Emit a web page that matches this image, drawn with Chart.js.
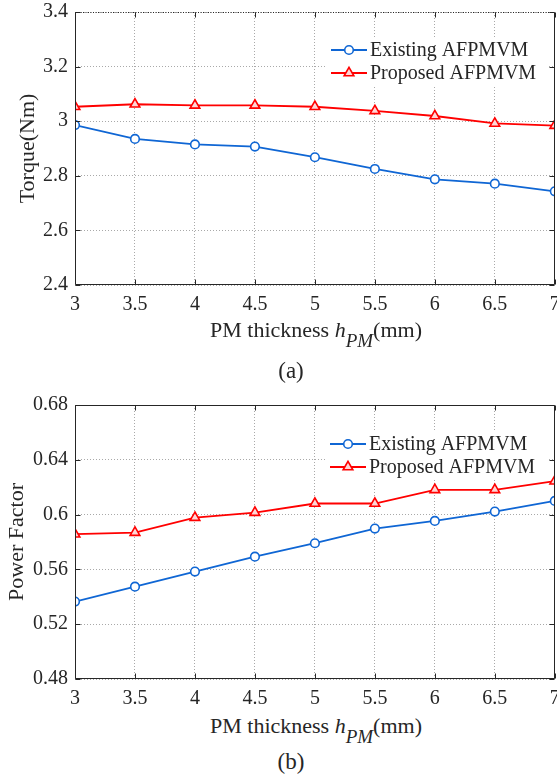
<!DOCTYPE html>
<html>
<head>
<meta charset="utf-8">
<script src="https://cdn.jsdelivr.net/npm/chart.js@4.4.1/dist/chart.umd.min.js"></script>
<style>
html, body { margin: 0; padding: 0; width: 557px; height: 781px; overflow: hidden; background: #fff; }
.wrap { position: absolute; left: 0; width: 562px; height: 320px; }
.xt { position: absolute; left: 0; width: 632px; text-align: center; font: 22px/22px "Liberation Serif"; color: #262626; white-space: nowrap; }
.xt i { font-style: italic; }
.xt sub { font-size: 19px; font-style: italic; vertical-align: baseline; position: relative; top: 10px; }
.cap { position: absolute; left: 0; width: 582px; text-align: center; font: 23px/23px "Liberation Serif"; color: #262626; }
</style>
</head>
<body>
<div class="wrap" style="top:0"><canvas id="torqueChart"></canvas></div>
<div class="xt" style="top:319px">PM thickness <i>h</i><sub>PM</sub>(mm)</div>
<div class="cap" style="top:359px">(a)</div>

<div class="wrap" style="top:390px"><canvas id="pfChart"></canvas></div>
<div class="xt" style="top:715px">PM thickness <i>h</i><sub>PM</sub>(mm)</div>
<div class="cap" style="top:750px">(b)</div>

<script>
const thickness      = [3, 3.5, 4, 4.5, 5, 5.5, 6, 6.5, 7];
const torqueExisting = [2.986, 2.935, 2.915, 2.907, 2.868, 2.825, 2.787, 2.771, 2.743];
const torqueProposed = [3.053, 3.062, 3.058, 3.058, 3.053, 3.038, 3.019, 2.992, 2.984];
const pfExisting     = [0.5365, 0.5474, 0.5584, 0.5693, 0.5791, 0.5898, 0.5954, 0.6022, 0.610];
const pfProposed     = [0.5857, 0.5869, 0.5978, 0.6015, 0.6081, 0.6081, 0.6181, 0.6181, 0.6244];

const xTicks      = [3, 3.5, 4, 4.5, 5, 5.5, 6, 6.5, 7];
const torqueTicks = [2.4, 2.6, 2.8, 3, 3.2, 3.4];
const pfTicks     = [0.48, 0.52, 0.56, 0.6, 0.64, 0.68];
const seriesNames = ["Existing AFPMVM", "Proposed AFPMVM"];

const BLUE = "#0f66d4";
const RED  = "#ff0000";
const INK  = "#262626";
const FONT = "Liberation Serif";

// black box round the plot, ticks pointing in on all four sides
const framePlugin = {
    id: "frame",
    afterDraw(chart, args, opts) {
        const { ctx, chartArea: a, scales: { x, y } } = chart;
        const L = Math.round(a.left) + 0.5, R = Math.round(a.right) - 0.5;
        const T = Math.round(a.top) + 0.5, B = Math.round(a.bottom) - 0.5;
        ctx.save();
        ctx.strokeStyle = INK;
        ctx.lineWidth = 1;
        ctx.beginPath();
        x.ticks.forEach(t => {
            const px = Math.round(x.getPixelForValue(t.value)) + 0.5;
            ctx.moveTo(px, B); ctx.lineTo(px, B - 5);
            ctx.moveTo(px, T); ctx.lineTo(px, T + 5);
        });
        y.ticks.forEach(t => {
            const py = Math.round(y.getPixelForValue(t.value)) + 0.5;
            ctx.moveTo(L, py); ctx.lineTo(L + 5, py);
            ctx.moveTo(R, py); ctx.lineTo(R - 5, py);
        });
        ctx.moveTo(L, T); ctx.lineTo(L, B); ctx.lineTo(R, B); ctx.lineTo(R, T);
        ctx.stroke();
        if (opts.dottedTop) ctx.setLineDash([1, 1.5]);
        ctx.beginPath();
        ctx.moveTo(L, T); ctx.lineTo(R, T);
        ctx.stroke();
        ctx.restore();
    }
};

// MATLAB-like legend box inside the plot
const legendPlugin = {
    id: "boxLegend",
    afterDatasetsDraw(chart, args, opts) {
        const { ctx } = chart;
        const rows = opts.rowY;
        ctx.save();
        ctx.fillStyle = "#fff";
        ctx.fillRect(opts.lineX - 4, rows[0] - 13, 222, rows[1] - rows[0] + 26);
        chart.data.datasets.forEach((ds, i) => {
            const yy = rows[i];
            ctx.setLineDash([]);
            ctx.strokeStyle = ds.borderColor;
            ctx.lineWidth = ds.borderWidth;
            ctx.beginPath();
            ctx.moveTo(opts.lineX, yy);
            ctx.lineTo(opts.lineX + 36, yy);
            ctx.stroke();
            ctx.fillStyle = ds.pointBackgroundColor;
            ctx.lineWidth = ds.pointBorderWidth;
            Chart.helpers.drawPoint(ctx, {
                pointStyle: ds.pointStyle, radius: ds.pointRadius,
                borderWidth: ds.pointBorderWidth, rotation: 0
            }, opts.lineX + 18, yy);
            ctx.fillStyle = INK;
            ctx.font = `20px "${FONT}"`;
            ctx.textBaseline = "middle";
            ctx.textAlign = "left";
            ctx.fillText(ds.label, opts.textX, yy + 1);
        });
        ctx.restore();
    }
};

function series(label, values, color, style, radius, fill) {
    return {
        label,
        data: thickness.map((x, i) => ({ x, y: values[i] })),
        borderColor: color,
        borderWidth: 1.8,
        pointStyle: style,
        pointRadius: radius,
        pointHoverRadius: radius,
        pointBorderWidth: 1.6,
        pointBorderColor: color,
        pointBackgroundColor: fill,
        tension: 0
    };
}

function makeChart(id, setup) {
    const ctx = document.getElementById(id).getContext("2d");
    return new Chart(ctx, {
        type: "line",
        data: {
            datasets: [
                series(seriesNames[0], setup.existing, BLUE, "circle", 4.3, "#fff"),
                series(seriesNames[1], setup.proposed, RED, "triangle", 5.6, "#ffd6d6")
            ]
        },
        options: {
            responsive: true,
            maintainAspectRatio: false,
            animation: false,
            layout: { padding: { top: setup.padTop, right: 6, left: 0, bottom: 0 } },
            plugins: {
                legend: { display: false },
                tooltip: { enabled: false },
                boxLegend: { lineX: setup.legendX, textX: setup.legendX + 39, rowY: setup.rowY },
                frame: { dottedTop: setup.dottedTop }
            },
            scales: {
                x: {
                    type: "linear",
                    min: 3,
                    max: 7,
                    afterBuildTicks: s => { s.ticks = xTicks.map(v => ({ value: v })); },
                    afterFit: s => { s.height = setup.xHeight; s.paddingLeft = 0; s.paddingRight = 0; },
                    ticks: { color: INK, font: { family: FONT, size: 20 }, padding: 8, maxRotation: 0, autoSkip: false,
                             callback: v => String(v) },
                    grid: { color: "rgba(140,140,140,0.75)", lineWidth: 1, drawTicks: false },
                    border: { display: false, dash: [1, 2] }
                },
                y: {
                    min: setup.yTicks[0],
                    max: setup.yTicks[setup.yTicks.length - 1],
                    afterBuildTicks: s => { s.ticks = setup.yTicks.map(v => ({ value: v })); },
                    afterFit: s => { s.width = 75; s.paddingTop = 0; s.paddingBottom = 0; },
                    ticks: { color: INK, font: { family: FONT, size: 20 }, padding: 7, autoSkip: false,
                             callback: v => String(+v.toFixed(3)) },
                    grid: { color: "rgba(140,140,140,0.75)", lineWidth: 1, drawTicks: false },
                    border: { display: false, dash: [1, 2] },
                    title: { display: true, text: setup.yTitle, color: INK,
                             font: { family: FONT, size: 22 }, padding: { top: setup.titlePad, bottom: 0 } }
                }
            }
        },
        plugins: [legendPlugin, framePlugin]
    });
}

makeChart("torqueChart", {
    existing: torqueExisting, proposed: torqueProposed, yTicks: torqueTicks,
    yTitle: "Torque(Nm)", titlePad: 15, padTop: 12, xHeight: 35,
    legendX: 331, rowY: [50, 73], dottedTop: true
});

makeChart("pfChart", {
    existing: pfExisting, proposed: pfProposed, yTicks: pfTicks,
    yTitle: "Power Factor", titlePad: 4, padTop: 15, xHeight: 31,
    legendX: 330, rowY: [54, 77], dottedTop: false
});
</script>
</body>
</html>
